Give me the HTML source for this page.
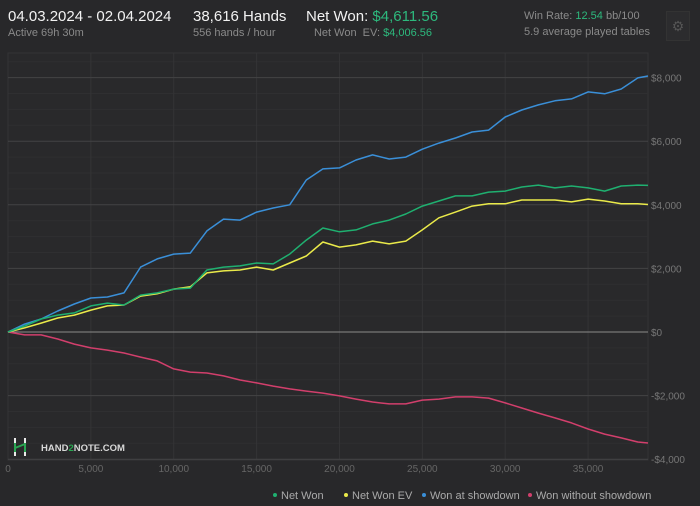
<!DOCTYPE html>
<html><head><meta charset="utf-8">
<style>
body{margin:0;background:#28282a;width:700px;height:506px;overflow:hidden;font-family:"Liberation Sans",sans-serif;}
.t{position:absolute;white-space:nowrap}
</style></head>
<body>
<div class="t" style="left:8px;top:8px;font-size:15px;color:#f2f2f2">04.03.2024 - 02.04.2024</div>
<div class="t" style="left:8px;top:27px;font-size:11px;color:#8a8a8a">Active 69h 30m</div>
<div class="t" style="left:193px;top:8px;font-size:15px;color:#f2f2f2">38,616 Hands</div>
<div class="t" style="left:193px;top:27px;font-size:11px;color:#8a8a8a">556 hands / hour</div>
<div class="t" style="left:306px;top:8px;font-size:15px;color:#f2f2f2">Net Won: <span style="color:#2db97d">$4,611.56</span></div>
<div class="t" style="right:268px;top:27px;font-size:11px;color:#8a8a8a">Net Won&nbsp; EV: <span style="color:#2db97d">$4,006.56</span></div>
<div class="t" style="left:524px;top:10px;font-size:11px;color:#8a8a8a">Win Rate: <span style="color:#2db97d">12.54</span> bb/100</div>
<div class="t" style="left:524px;top:26px;font-size:11px;color:#8a8a8a">5.9 average played tables</div>
<div class="t" style="left:666px;top:11px;width:22px;height:28px;border:1px solid #333;background:#2c2c2e;color:#555;font-size:14px;text-align:center;line-height:28px">⚙</div>

<svg id="chart" width="700" height="506" style="position:absolute;left:0;top:0">
<g id="grid"></g>
<g>
<path d="M15 438 V444 M15 450 V456 M25 438 V444 M25 450 V456" stroke="#fff" stroke-width="1.8" fill="none"/>
<path d="M15 443 V452 M15 448 L25 444 M25 443 V452" stroke="#2aa552" stroke-width="2" fill="none"/>
<text x="41" y="451" font-size="9.5" font-weight="bold" fill="#d8d8d8">HAND<tspan fill="#2aa552">2</tspan>NOTE.COM</text>
</g>
<g id="lines"></g>
<g id="ticks"></g>
<g id="legend"></g>
</svg>
<script>
const hands=[0,1000,2000,3000,4000,5000,6000,7000,8000,9000,10000,11000,12000,13000,14000,15000,16000,17000,18000,19000,20000,21000,22000,23000,24000,25000,26000,27000,28000,29000,30000,31000,32000,33000,34000,35000,36000,37000,38000,38616];
const netWon=[0,190,410,530,600,820,910,850,1160,1230,1350,1380,1950,2040,2080,2170,2140,2450,2890,3270,3150,3210,3400,3520,3710,3960,4120,4280,4280,4400,4430,4560,4620,4530,4590,4530,4430,4590,4620,4610];
const netWonEV=[0,130,280,440,530,690,820,850,1130,1200,1350,1420,1860,1920,1950,2040,1950,2170,2390,2830,2670,2740,2860,2770,2860,3210,3590,3770,3960,4030,4030,4150,4150,4150,4090,4180,4120,4030,4030,4010];
const showdown=[0,250,410,660,880,1070,1100,1230,2040,2300,2450,2480,3180,3550,3520,3770,3900,4000,4780,5130,5160,5410,5570,5440,5500,5750,5940,6100,6290,6350,6760,6980,7140,7270,7330,7550,7490,7640,7990,8050];
const nonShowdown=[0,-90,-90,-220,-380,-500,-570,-660,-790,-910,-1160,-1260,-1290,-1380,-1510,-1600,-1700,-1790,-1860,-1920,-2010,-2110,-2200,-2260,-2260,-2140,-2110,-2040,-2040,-2080,-2230,-2390,-2550,-2700,-2860,-3050,-3210,-3330,-3460,-3490];
const yTicks=[-4000,-2000,0,2000,4000,6000,8000];
const yTickLabels=["-$4,000","-$2,000","$0","$2,000","$4,000","$6,000","$8,000"];
const xTicks=[0,5000,10000,15000,20000,25000,30000,35000];
const xTickLabels=["0","5,000","10,000","15,000","20,000","25,000","30,000","35,000"];
const legendNames=["Net Won","Net Won  EV","Won at showdown","Won without showdown"];
const colors=["#1fb070","#eaea4a","#3a8fd8","#d23f6c"];

const X0=8,X1=648,XMAX=38616,YT=53;
const sx=h=>X0+h/XMAX*(X1-X0);
const sy=v=>332-v*63.6/2000;
const NS="http://www.w3.org/2000/svg";
function mk(tag,attrs,parent){const e=document.createElementNS(NS,tag);for(const k in attrs)e.setAttribute(k,attrs[k]);parent.appendChild(e);return e;}
const grid=document.getElementById('grid'),lines=document.getElementById('lines'),ticks=document.getElementById('ticks'),legend=document.getElementById('legend');
mk('rect',{x:X0,y:YT,width:X1-X0,height:460-YT,fill:'#29292b',stroke:'#343436'},grid);
for(let v=-4000;v<=9000;v+=500){
  if(v%2000===0)continue;
  if(sy(v)<YT+2)continue;
  mk('line',{x1:X0,x2:X1,y1:sy(v),y2:sy(v),stroke:'#2f2f31'},grid);
}
xTicks.forEach((h,i)=>{
  const l=mk('line',{x1:sx(h),x2:sx(h),y1:YT,y2:460,stroke:'#343436'},grid);
  
  
  const t=mk('text',{x:sx(h),y:472,'font-size':10,fill:'#666','text-anchor':'middle'},ticks);
  t.textContent=xTickLabels[i];
  
  
});
yTicks.forEach((v,i)=>{
  const l=mk('line',{x1:X0,x2:X1,y1:sy(v),y2:sy(v),stroke:v===0?'#8a8a8a':'#434345'},grid);
  
  
  const t=mk('text',{x:651,y:sy(v)+4,'font-size':10,fill:'#777'},ticks);
  t.textContent=yTickLabels[i];
  
  
});
const series=[netWon,netWonEV,showdown,nonShowdown];
const sNames=['net-won-line','net-won-ev-line','won-at-showdown-line','won-without-showdown-line'];
[3,2,1,0].forEach(i=>{
  const d=series[i].map((v,j)=>(j?'L':'M')+sx(hands[j]).toFixed(1)+' '+sy(v).toFixed(1)).join(' ');
  const p=mk('path',{d:d,fill:'none',stroke:colors[i],'stroke-width':1.5,'stroke-linejoin':'round'},lines);
  
  
});
const lx=[272,343,421,527];
legendNames.forEach((n,i)=>{
  const g=mk('g',{},legend);
  
  
  mk('circle',{cx:lx[i]+3,cy:495,r:2,fill:colors[i]},g);
  const t=mk('text',{x:lx[i]+9,y:499,'font-size':11,fill:'#aaa','xml:space':'preserve'},g);
  t.textContent=n;
});
</script>
</body></html>
